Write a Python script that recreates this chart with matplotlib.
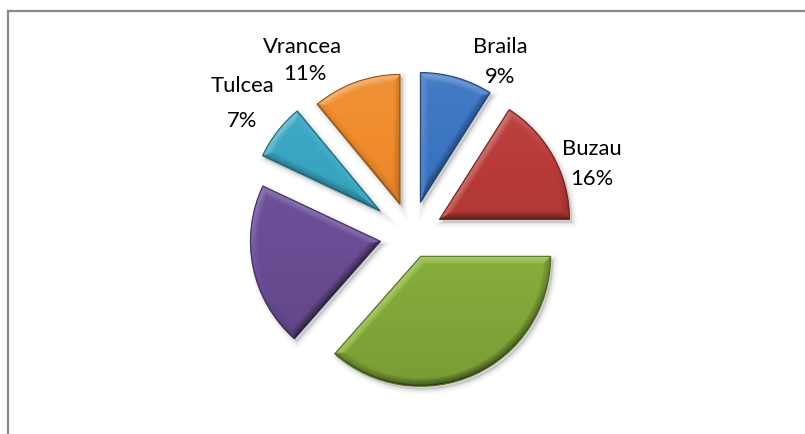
import numpy as np
import matplotlib
matplotlib.use("Agg")
import matplotlib.pyplot as plt
from matplotlib.patches import Wedge
from matplotlib.lines import Line2D
from matplotlib.colors import to_rgb

# Share of each county in the region (%)
counties = ["Braila", "Buzau", "Constanta", "Galati", "Tulcea", "Vrancea"]
shares = [9, 16, 36.5, 20.5, 7, 11]
show_label = [True, True, False, False, True, True]

# Styling
slice_colors = ["#3a74c2", "#b83b38", "#8db53e", "#6e509a", "#38a6c2", "#f08b2b"]
explode = [0.26, 0.25, 0.18, 0.24, 0.30, 0.25]

W, H = 805, 435
R_PX = 130.0          # pie radius in pixels
CX, CY = 411.0, 236.0  # pie centre in pixels (from top-left)

fig = plt.figure(figsize=(W / 100, H / 100), dpi=100)
fig.patch.set_facecolor("white")
ax = fig.add_axes([0, 0, 1, 1])

xlim = (-CX / R_PX, (W - CX) / R_PX)
ylim = (-(H - CY) / R_PX, CY / R_PX)

wedges, _ = ax.pie(shares, explode=explode, startangle=90, counterclock=False,
                   colors=slice_colors, radius=1.0,
                   wedgeprops=dict(linewidth=0, zorder=2))

light = np.array([-0.45, 0.9])
light = light / np.linalg.norm(light)


def shade_wedge(w, color):
    cx, cy = w.center
    r = w.r
    t1, t2 = np.radians(w.theta1), np.radians(w.theta2)
    span = t2 - t1
    n = int(2 * r * R_PX * 2)
    xs = np.linspace(cx - r, cx + r, n)
    ys = np.linspace(cy - r, cy + r, n)
    X, Y = np.meshgrid(xs, ys)
    dx, dy = X - cx, Y - cy
    rho = np.hypot(dx, dy)
    phi = np.mod(np.arctan2(dy, dx) - t1, 2 * np.pi)
    d_arc = r - rho
    d1 = np.where(phi < np.pi / 2, rho * np.sin(phi), rho)
    rem = span - phi
    d2 = np.where((rem < np.pi / 2) & (rem > -np.pi), rho * np.sin(np.clip(rem, 0, None)), rho)
    D = np.stack([d_arc, d1, d2])
    k = np.argmin(D, axis=0)
    d = np.min(D, axis=0)
    ang = np.arctan2(dy, dx)
    nx = np.select([k == 0, k == 1, k == 2], [np.cos(ang), np.full_like(ang, np.sin(t1)), np.full_like(ang, -np.sin(t2))])
    ny = np.select([k == 0, k == 1, k == 2], [np.sin(ang), np.full_like(ang, -np.cos(t1)), np.full_like(ang, np.cos(t2))])
    bevel = 0.06
    t = np.clip(1 - d / bevel, 0, 1) ** 0.8
    s = (nx * light[0] + ny * light[1]) * t * 0.42
    # gentle overall gradient: lighter towards the top
    s = s + 0.10 * (Y - cy) / r - 0.04
    # dark rim right at the boundary
    s = s - 0.25 * np.clip(1 - d / 0.012, 0, 1)
    base = np.array(to_rgb(color))
    S = s[..., None]
    rgb = np.where(S > 0, base + (1 - base) * S * 0.9, base * (1 + S))
    rgb = np.clip(rgb, 0, 1)
    img = np.dstack([rgb, np.ones(X.shape)])
    im = ax.imshow(img, extent=(cx - r, cx + r, cy - r, cy + r), origin="lower",
                   zorder=3, interpolation="bilinear")
    im.set_clip_path(w)


for w, c in zip(wedges, slice_colors):
    # soft drop shadow
    cx, cy = w.center
    for lw, a in [(7, 0.025), (4.5, 0.04), (2, 0.06)]:
        ax.add_patch(Wedge((cx + 0.02, cy - 0.025), w.r, w.theta1, w.theta2,
                           facecolor=(0, 0, 0, a), edgecolor=(0, 0, 0, a),
                           linewidth=lw, zorder=1))
    shade_wedge(w, c)
    edge = np.array(to_rgb(c)) * 0.62
    ax.add_patch(Wedge(w.center, w.r, w.theta1, w.theta2, fill=False,
                       edgecolor=edge, linewidth=0.8, zorder=4))

ax.set_aspect("auto")
ax.set_xlim(*xlim)
ax.set_ylim(*ylim)
ax.axis("off")

# Data labels: name line and percentage line, baseline pixel positions
label_pos = {
    "Braila": ((500, 53), (500, 83)),
    "Buzau": ((592, 155), (592, 185)),
    "Tulcea": ((242, 92), (242, 127)),
    "Vrancea": ((302, 53), (305, 80)),
}
font = dict(family=["Lato", "DejaVu Sans"], fontsize=15.8, color="black")
for name, v, show in zip(counties, shares, show_label):
    if not show:
        continue
    (nx_, ny_), (px_, py_) = label_pos[name]
    fig.text(nx_ / W, 1 - ny_ / H, name, ha="center", va="baseline", **font)
    fig.text(px_ / W, 1 - py_ / H, f"{v:.0f}%", ha="center", va="baseline", **font)

# Chart area border (left and top edges)
fx0, fy0 = 7.5 / W, 1 - 11.5 / H
fig.add_artist(Line2D([fx0, fx0], [0, fy0], color="#8a8a8a", linewidth=1.6, transform=fig.transFigure))
fig.add_artist(Line2D([fx0, 1], [fy0, fy0], color="#8a8a8a", linewidth=1.6, transform=fig.transFigure))

fig.savefig("out.png", dpi=100, facecolor="white")
